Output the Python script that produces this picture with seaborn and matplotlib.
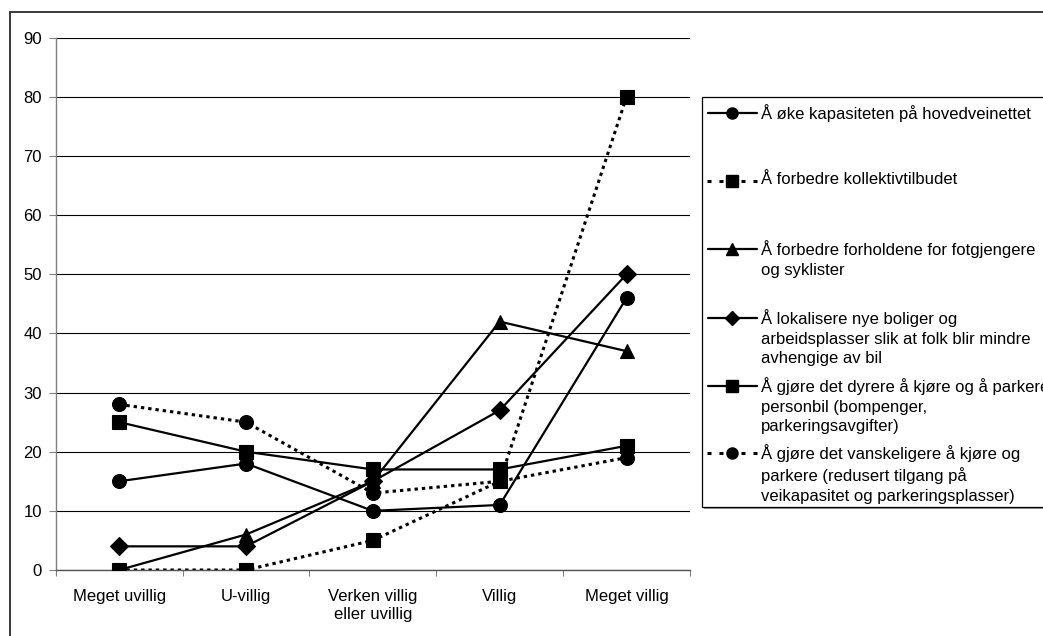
import numpy as np
import pandas as pd
import matplotlib
matplotlib.use("Agg")
import matplotlib.pyplot as plt
from matplotlib.lines import Line2D
from matplotlib.patches import Rectangle
import seaborn as sns

# ---- data ----
categories = ["Meget uvillig", "U-villig", "Verken villig\neller uvillig", "Villig", "Meget villig"]
series_names = [
    "Å øke kapasiteten på hovedveinettet",
    "Å forbedre kollektivtilbudet",
    "Å forbedre forholdene for fotgjengere\nog syklister",
    "Å lokalisere nye boliger og\narbeidsplasser slik at folk blir mindre\navhengige av bil",
    "Å gjøre det dyrere å kjøre og å parkere\npersonbil (bompenger,\nparkeringsavgifter)",
    "Å gjøre det vanskeligere å kjøre og\nparkere (redusert tilgang på\nveikapasitet og parkeringsplasser)",
]
kapasitet = [15, 18, 10, 11, 46]
kollektiv = [0, 0, 5, 15, 80]
fotgjengere = [0, 6, 15, 42, 37]
lokalisere = [4, 4, 15, 27, 50]
dyrere = [25, 20, 17, 17, 21]
vanskeligere = [28, 25, 13, 15, 19]
y_ticks = [0, 10, 20, 30, 40, 50, 60, 70, 80, 90]

values = [kapasitet, kollektiv, fotgjengere, lokalisere, dyrere, vanskeligere]
rows = []
for name, vals in zip(series_names, values):
    for c, v in zip(categories, vals):
        rows.append({"cat": c, "val": v, "series": name})
df = pd.DataFrame(rows)

marker_list = ["o", "s", "^", "D", "s", "o"]
marker_sizes = [10, 10, 10, 9, 10, 10]
is_dotted = [False, True, False, False, False, True]
dotted = (1.1, 1.1)
dash_list = [dotted if d else "" for d in is_dotted]
markers = dict(zip(series_names, marker_list))
dashes = dict(zip(series_names, dash_list))
palette = {n: "black" for n in series_names}

sns.set_theme(style="white")
plt.rcParams["font.family"] = ["Liberation Sans", "DejaVu Sans"]

W, H = 1043, 636
fig = plt.figure(figsize=(W / 100, H / 100), dpi=100)

def fx(px):
    return px / W

def fy(py):
    return 1 - py / H

# outer chart frame
fig.patches.append(Rectangle((fx(10), fy(700)), fx(1100) - fx(10), fy(12) - fy(700),
                             transform=fig.transFigure, fill=False,
                             edgecolor="#2a2a2a", lw=1.3, zorder=0))

ax = fig.add_axes([fx(55.7), fy(570), fx(690) - fx(55.7), fy(37.7) - fy(570)])

sns.lineplot(data=df, x="cat", y="val", hue="series", style="series",
             markers=markers, dashes=dashes, palette=palette, sort=False,
             legend=False, ax=ax, lw=1.6, markersize=10,
             markeredgecolor="black", markeredgewidth=0.8)
for line, ms, d in zip(ax.get_lines(), marker_sizes, is_dotted):
    line.set_markersize(ms)
    line.set_zorder(3)
    if d:
        line.set_linewidth(2.2)
        line.set_dashes((1.1, 1.3))

ax.set_xlim(-0.5, 4.5)
ax.set_ylim(0, 90)
ax.set_yticks(y_ticks)
ax.set_xticks(range(len(categories)))
ax.set_xticklabels(categories)
ax.set_xticks(np.arange(-0.5, 5, 1), minor=True)
ax.set_xlabel("")
ax.set_ylabel("")

ax.yaxis.grid(True, color="black", lw=0.8, zorder=0)
ax.xaxis.grid(False)
ax.set_axisbelow(True)
for s in ["top", "right"]:
    ax.spines[s].set_visible(False)
ax.spines["left"].set_color("#808080")
ax.spines["left"].set_linewidth(1.0)
ax.spines["bottom"].set_color("#555555")
ax.spines["bottom"].set_linewidth(1.0)

ax.tick_params(axis="y", which="major", direction="out", length=5, width=0.8,
               color="#808080", labelsize=12, labelcolor="black", pad=5, left=True)
ax.tick_params(axis="x", which="major", length=0, labelsize=12, labelcolor="black", pad=14)
ax.tick_params(axis="x", which="minor", direction="out", length=4, width=0.8,
               color="#808080", bottom=True)

# ---- legend (Excel style, marker aligned with first text line) ----
lg_left, lg_top, lg_bottom = 702, 97, 507
fig.patches.append(Rectangle((fx(lg_left + 2), fy(lg_bottom + 2)), fx(1200) - fx(lg_left),
                             fy(lg_top) - fy(lg_bottom), transform=fig.transFigure,
                             facecolor="#9a9a9a", edgecolor="none", zorder=1))
fig.patches.append(Rectangle((fx(lg_left), fy(lg_bottom)), fx(1200) - fx(lg_left),
                             fy(lg_top) - fy(lg_bottom), transform=fig.transFigure,
                             facecolor="white", edgecolor="black", lw=0.9, zorder=2))
entry_y = [113, 181, 249, 318, 386, 453]
for name, mk, ms, d, yy in zip(series_names, marker_list, marker_sizes, is_dotted, entry_y):
    if d:
        for x0, x1 in [(707, 711), (719, 723), (741, 745), (753, 757)]:
            fig.lines.append(Line2D([fx(x0), fx(x1)], [fy(yy), fy(yy)],
                                    transform=fig.transFigure, color="black",
                                    lw=2.2, solid_capstyle="butt", zorder=3))
    else:
        fig.lines.append(Line2D([fx(708), fx(757)], [fy(yy), fy(yy)],
                                transform=fig.transFigure, color="black", lw=1.6, zorder=3))
    fig.lines.append(Line2D([fx(732)], [fy(yy)], transform=fig.transFigure, marker=mk,
                            markersize=ms * 0.8, color="black", markeredgecolor="black",
                            linestyle="none", zorder=4))
    fig.text(fx(761), fy(yy - 9), name, ha="left", va="top", fontsize=12,
             color="black", linespacing=1.38, zorder=5)

fig.savefig("out.png", dpi=100)
